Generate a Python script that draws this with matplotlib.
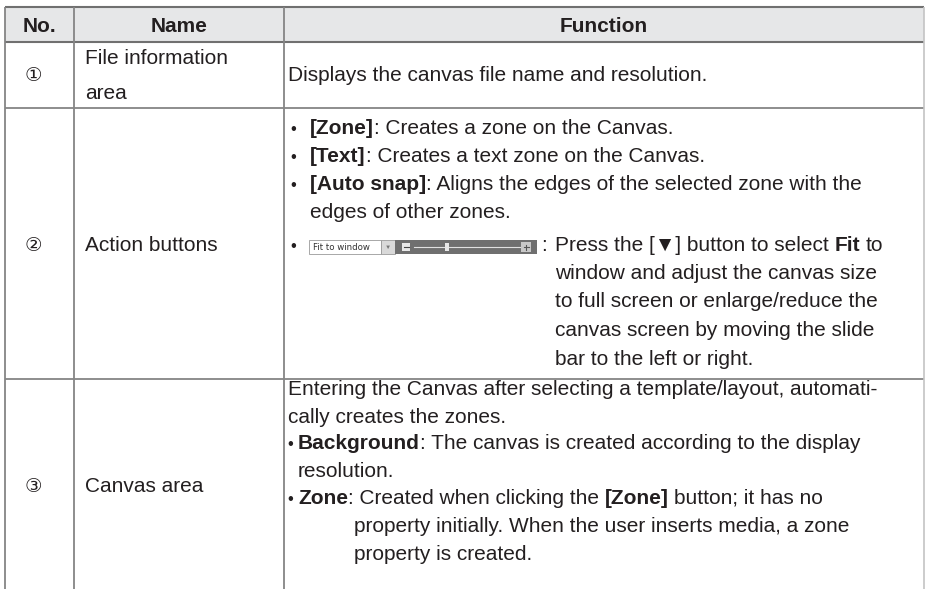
import matplotlib
matplotlib.use("Agg")
import matplotlib.pyplot as plt
from matplotlib.patches import Rectangle

plt.rcParams['font.family'] = ['Liberation Sans', 'DejaVu Sans', 'Noto Sans CJK SC']

# ---- table content ----
headers = ["No.", "Name", "Function"]
numbers = ["\u2460", "\u2461", "\u2462"]
names = [["File information", "area"], ["Action buttons"], ["Canvas area"]]
row1_function = "Displays the canvas file name and resolution."
row2_bullets = [
    [("[Zone]", True), (": Creates a zone on the Canvas.", False)],
    [("[Text]", True), (": Creates a text zone on the Canvas.", False)],
    [("[Auto snap]", True), (": Aligns the edges of the selected zone with the", False)],
]
row2_bullet3_cont = "edges of other zones."
widget_label = "Fit to window"
row2_widget_lines = [
    [("Press the [\u25BC] button to select", False), ("Fit", True), ("to", False)],
    [("window and adjust the canvas size", False)],
    [("to full screen or enlarge/reduce the", False)],
    [("canvas screen by moving the slide", False)],
    [("bar to the left or right.", False)],
]
row3_intro = ["Entering the Canvas after selecting a template/layout, automati-",
              "cally creates the zones."]
row3_bg = [("Background", True), (": The canvas is created according to the display", False)]
row3_bg_cont = "resolution."
row3_zone = [("Zone", True), (": Created when clicking the", False), ("[Zone]", True),
             ("button; it has no", False)]
row3_zone_cont = ["property initially. When the user inserts media, a zone",
                  "property is created."]

W, H = 926, 589
fig = plt.figure(figsize=(W / 100, H / 100), dpi=100)
ax = fig.add_axes([0, 0, 1, 1])
ax.set_xlim(0, W)
ax.set_ylim(H, 0)
ax.axis('off')
renderer = fig.canvas.get_renderer()

FS = 15.0
TC = '#231f20'
LC = '#858585'

# geometry
L, C1, C2, R = 5, 74, 284, 924
T, HB, R1, R2 = 6.5, 42, 108, 379

ax.add_patch(Rectangle((L, T), R - L, HB - T, facecolor='#e6e7e8', edgecolor='none', zorder=0))

def hline(y, x0=L, x1=R, c=LC, lw=1.3):
    ax.plot([x0, x1], [y, y], color=c, lw=lw, solid_capstyle='butt', zorder=3)

def vline(x, y0=T, y1=H, c=LC, lw=1.3):
    ax.plot([x, x], [y0, y1], color=c, lw=lw, solid_capstyle='butt', zorder=3)

hline(T, c='#707070', lw=1.5)
hline(HB, c='#707070', lw=1.5)
hline(R1)
hline(R2)
vline(L)
vline(C1)
vline(C2)
vline(R, c='#c4c4c4', lw=1.2)

def txt(x, y, s, bold=False, ha='left', fs=FS, **kw):
    return ax.text(x, y, s, fontsize=fs, fontweight='bold' if bold else 'normal',
                   ha=ha, va='baseline', color=TC, **kw)

def width(t):
    return t.get_window_extent(renderer).width

t1 = txt(0, -100, "a a"); t2 = txt(0, -100, "aa")
SP = width(t1) - width(t2)
t1.remove(); t2.remove()

def runs(x, y, parts):
    first = True
    for s, b in parts:
        lead = s.startswith(" ") or (not first and not s.startswith((":", ";", ".", ",")))
        if lead:
            x += SP
        s = s.strip()
        t = txt(x, y, s, bold=b)
        x += width(t)
        first = False
    return x

# header
txt((L + C1) / 2, 32, headers[0], bold=True, ha='center')
txt((C1 + C2) / 2, 32, headers[1], bold=True, ha='center')
txt((C2 + R) / 2, 32, headers[2], bold=True, ha='center')

NX = 33
NAMEX = 85
TX = 288

# row 1
txt(NX, 81, numbers[0], ha='center', fs=14)
txt(NAMEX, 64, names[0][0])
txt(NAMEX, 99, names[0][1])
txt(TX, 81, row1_function)

# row 2
txt(NX, 251, numbers[1], ha='center', fs=14)
txt(NAMEX, 251, names[1][0])
BX = 293
B2X = 310
for y, parts in zip([134, 162, 190], row2_bullets):
    txt(BX, y, "\u2022", ha='center', fs=12)
    runs(B2X, y, parts)
txt(B2X, 218, row2_bullet3_cont)
txt(BX, 251, "\u2022", ha='center', fs=12)

# widget image (UI control)
wy0, wy1 = 240, 254
ax.add_patch(Rectangle((309, wy0), 72, wy1 - wy0, facecolor='white', edgecolor='#9a9a9a', lw=0.6, zorder=4))
ax.text(313, (wy0 + wy1) / 2 + 0.5, widget_label, fontsize=6.2, ha='left', va='center',
        color='#333333', family='DejaVu Sans', zorder=5)
ax.add_patch(Rectangle((381, wy0), 14, wy1 - wy0, facecolor='#d9d9d9', edgecolor='#9a9a9a', lw=0.6, zorder=4))
ax.text(388, (wy0 + wy1) / 2 + 0.5, "\u25BC", fontsize=4.5, ha='center', va='center', color='#777777', zorder=5)
ax.add_patch(Rectangle((395, wy0), 142, wy1 - wy0, facecolor='#6f6f6f', edgecolor='none', zorder=4))
ax.add_patch(Rectangle((402, wy0 + 3), 8, 8, facecolor='#e8e8e8', edgecolor='none', zorder=5))
ax.plot([403.5, 408.5], [wy0 + 7, wy0 + 7], color='#444444', lw=0.8, zorder=6)
ax.plot([414, 520], [wy0 + 7, wy0 + 7], color='#e0e0e0', lw=0.8, zorder=5)
ax.add_patch(Rectangle((445, wy0 + 3), 4, 8, facecolor='#e8e8e8', edgecolor='none', zorder=6))
ax.add_patch(Rectangle((521, wy0 + 2), 10, 10, facecolor='#c8c8c8', edgecolor='none', zorder=5))
ax.plot([523.5, 528.5], [wy0 + 7, wy0 + 7], color='#555555', lw=0.8, zorder=6)
ax.plot([526, 526], [wy0 + 4.5, wy0 + 9.5], color='#555555', lw=0.8, zorder=6)

txt(541, 251, ":")
runs(555, 251, row2_widget_lines[0])
for y, parts in zip([279, 307, 336, 365], row2_widget_lines[1:]):
    runs(555, y, parts)

# row 3
txt(NX, 492, numbers[2], ha='center', fs=14)
txt(NAMEX, 492, names[2][0])
txt(TX, 395, row3_intro[0])
txt(TX, 423, row3_intro[1])
B3X = 290
T3X = 298
txt(B3X, 449, "\u2022", ha='center', fs=12)
runs(T3X, 449, row3_bg)
txt(T3X, 477, row3_bg_cont)
txt(B3X, 504, "\u2022", ha='center', fs=12)
runs(T3X, 504, row3_zone)
txt(354, 532, row3_zone_cont[0])
txt(354, 560, row3_zone_cont[1])

fig.savefig("out.png", dpi=100, facecolor='white')
